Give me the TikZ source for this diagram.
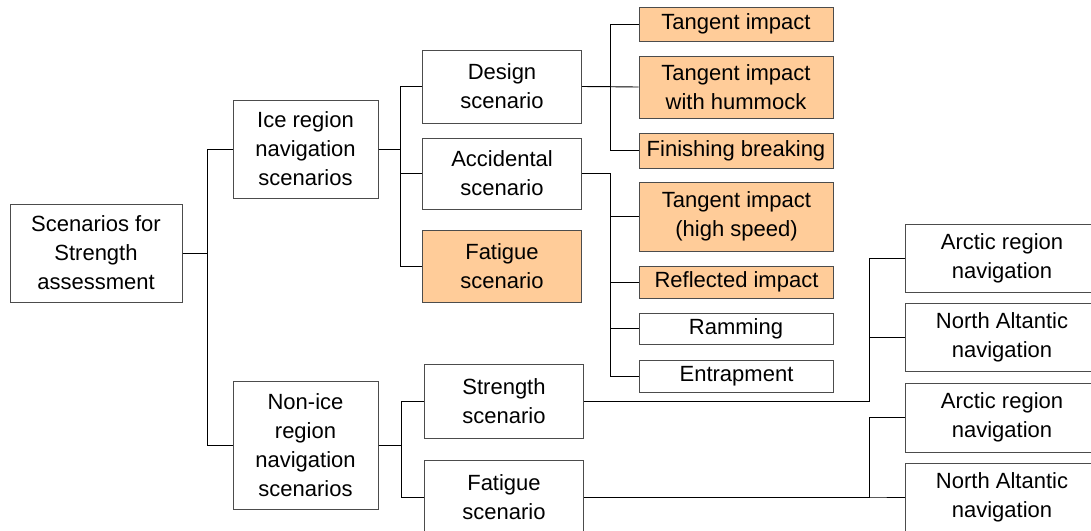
\documentclass[tikz,border=0pt]{standalone}
\usepackage{fontspec}
\setmainfont{Liberation Sans}
\usepackage{tikz}
\usetikzlibrary{positioning}

\definecolor{tan}{RGB}{255,204,153}

\begin{document}
\begin{tikzpicture}[x=1pt, y=-1pt,
    box/.style={rectangle, draw=black!70, line width=1pt, align=center, inner sep=0pt,
                font=\fontsize{22}{29}\selectfont},
    mid/.style={box, minimum width=159pt},
    leaf/.style={box, minimum width=194pt},
    hot/.style={fill=tan},
    link/.style={draw=black, line width=0.9pt}]
    \useasboundingbox (0,0) rectangle (1091,530);

    \node (root)   [box, minimum width=172pt, minimum height=98pt] at (96,253) {Scenarios for\\Strength\\assessment};
    \node (ice)    [box, minimum width=145pt, minimum height=98pt] at (305.5,149) {Ice region\\navigation\\scenarios};
    \node (nonice) [box, minimum width=145pt, minimum height=128pt] at (305.5,445) {Non-ice\\region\\navigation\\scenarios};

    \node (design) [mid, minimum height=73pt] at (502,86.5) {Design\\scenario};
    \node (accid)  [mid, minimum height=71pt] at (502,173.5) {Accidental\\scenario};
    \node (fatice) [mid, hot, minimum height=72pt] at (502,266) {Fatigue\\scenario};
    \node (strn)   [mid, minimum height=74pt] at (504,401) {Strength\\scenario};
    \node (fatnon) [mid, minimum height=74pt] at (504,497) {Fatigue\\scenario};

    \node (tang)   [leaf, hot, minimum height=34pt] at (736,24) {Tangent impact};
    \node (hummock)[leaf, hot, minimum height=62pt] at (736,87) {Tangent impact\\with hummock};
    \node (finish) [leaf, hot, minimum height=35pt] at (736,150.5) {Finishing breaking};
    \node (speed)  [leaf, hot, minimum height=69pt] at (736.5,216.5) {Tangent impact\\(high speed)};
    \node (reflect)[leaf, hot, minimum height=32pt] at (736.5,282) {Reflected impact};
    \node (ram)    [leaf, minimum height=31pt] at (736,328.5) {Ramming};
    \node (trap)   [leaf, minimum height=32pt] at (736.5,376) {Entrapment};

    \node (arcA)   [leaf, minimum height=68pt] at (1002,258) {Arctic region\\navigation};
    \node (natA)   [leaf, minimum height=68pt] at (1002,337) {North Altantic\\navigation};
    \node (arcB)   [leaf, minimum height=69pt] at (1002,417.5) {Arctic region\\navigation};
    \node (natB)   [leaf, minimum height=68pt] at (1002,497) {North Altantic\\navigation};

    \draw [link] (root.east) -- ++(25,0) |- (ice.west);
    \draw [link] (root.east) -- ++(25,0) |- (nonice.west);

    \draw [link] (ice.east) -- ++(22,0) |- (design.west);
    \draw [link] (ice.east) -- ++(22,0) |- (accid.west);
    \draw [link] (ice.east) -- ++(22,0) |- (fatice.west);

    \draw [link] (design.east) -- ++(28,0) |- (tang.west);
    \draw [link] (design.east) -- (hummock.west);
    \draw [link] (design.east) -- ++(28,0) |- (finish.west);

    \draw [link] (accid.east) -- ++(28,0) |- (speed.west);
    \draw [link] (accid.east) -- ++(28,0) |- (reflect.west);
    \draw [link] (accid.east) -- ++(28,0) |- (ram.west);
    \draw [link] (accid.east) -- ++(28,0) |- (trap.west);

    \draw [link] (nonice.east) -- ++(23,0) |- (strn.west);
    \draw [link] (nonice.east) -- ++(23,0) |- (fatnon.west);

    \draw [link] (strn.east) -- ++(285,0) |- (arcA.west);
    \draw [link] (strn.east) -- ++(285,0) |- (natA.west);
    \draw [link] (fatnon.east) -- ++(285,0) |- (arcB.west);
    \draw [link] (fatnon.east) -- ++(285,0) |- (natB.west);
\end{tikzpicture}
\end{document}
